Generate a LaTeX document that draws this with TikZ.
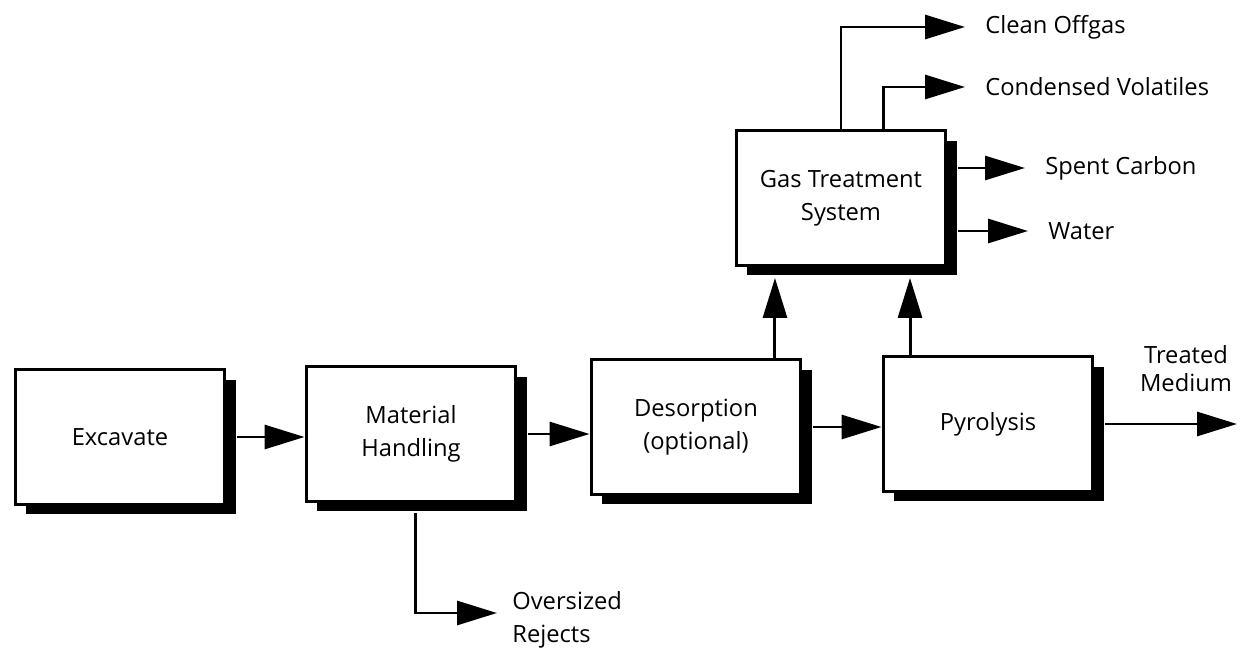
\documentclass[tikz,border=0pt]{standalone}
\usepackage{fontspec}
\setmainfont{Open Sans}
\usetikzlibrary{arrows.meta}
\usetikzlibrary{shadows}

\begin{document}
\begin{tikzpicture}[x=0.02cm, y=-0.02cm,
    stage/.style={draw, line width=1.7pt, fill=white, minimum width=4.2cm, minimum height=2.7cm,
      align=center, font=\fontsize{13.5}{19}\selectfont,
      drop shadow={shadow xshift=0.22cm, shadow yshift=-0.2cm, fill=black, opacity=1}},
    flow/.style={-{Triangle[length=0.8cm, width=0.48cm]}, line width=1.7pt},
    outlbl/.style={anchor=west, inner xsep=0.4cm, font=\fontsize{13.5}{19}\selectfont, align=left}]
      \useasboundingbox (0,0) rectangle (1242,649);

      \node[stage] (excavate) at (120,437) {Excavate};
      \node[stage] (handling) at (411,434) {Material\\Handling};
      \node[stage] (desorp) at (696,427) {Desorption\\(optional)};
      \node[stage] (pyro) at (988,424) {Pyrolysis};
      \node[stage] (gts) at (841,198) {Gas Treatment\\System};

      \draw[flow] ([xshift=0.22cm]excavate.east) -- (excavate.east -| handling.west);
      \draw[flow] ([xshift=0.22cm]handling.east) -- (handling.east -| desorp.west);
      \draw[flow] ([xshift=0.22cm]desorp.east) -- (desorp.east -| pyro.west);

      \draw[flow] ([xshift=1.58cm]desorp.north) -- ([xshift=1.58cm, yshift=-0.22cm]desorp.north |- gts.south);
      \draw[flow] ([xshift=-1.56cm]pyro.north) -- ([xshift=-1.56cm, yshift=-0.22cm]pyro.north |- gts.south);

      % products leaving the pyrolysis step
      \coordinate (medium) at (1237,424);
      \draw[flow] ([xshift=0.22cm]pyro.east) -- (medium);
      \node[font=\fontsize{13.5}{16}\selectfont, align=center] (mediumlbl) at (1186,369) {Treated\\Medium};

      % gas treatment outputs
      \node[outlbl] (offgas) at (965,27) {Clean Offgas};
      \node[outlbl] (volatiles) at (965,87) {Condensed Volatiles};
      \node[outlbl] (carbon) at (1025,168) {Spent Carbon};
      \node[outlbl] (water) at (1028,231) {Water};

      \draw[flow] (gts.north) |- (offgas.west);
      \draw[flow] ([xshift=0.85cm]gts.north) |- (volatiles.west);
      \draw[flow] ([xshift=0.22cm]gts.east |- carbon.west) -- (carbon.west);
      \draw[flow] ([xshift=0.22cm]gts.east |- water.west) -- (water.west);

      % rejects
      \node[outlbl, anchor=north west, inner xsep=0.3cm] (rejects) at (497,585) {Oversized\\Rejects};
      \coordinate (rejtip) at (497,613);
      \draw[flow] ([xshift=0.09cm, yshift=-0.2cm]handling.south) |- (rejtip);
    \end{tikzpicture}
\end{document}
